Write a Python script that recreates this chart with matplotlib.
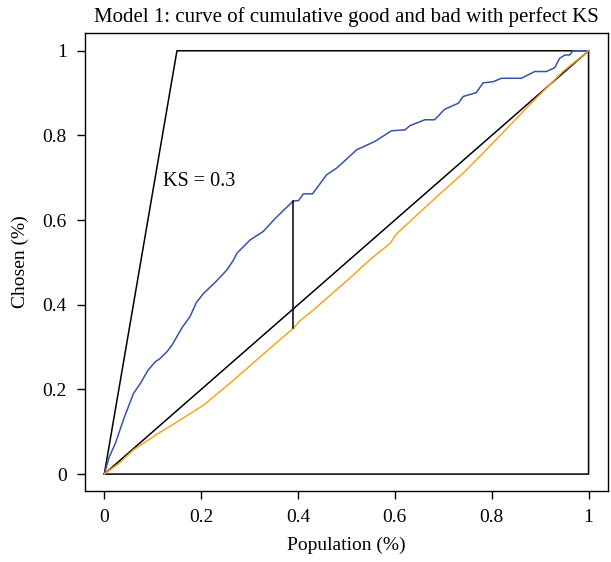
"""
Model 1: cumulative good / bad curves with the perfect-KS polygon.
"""
import matplotlib.pyplot as plt
import matplotlib as mpl

mpl.rcParams.update({
    'font.family': ['Liberation Serif', 'DejaVu Serif'],
    'font.size': 14,
    'axes.linewidth': 1.0,
    'xtick.direction': 'out',
    'ytick.direction': 'out',
})

# cumulative share of goods (blue)
good_x = [0.0, 0.01, 0.023, 0.04, 0.06, 0.075, 0.09, 0.105, 0.115, 0.13, 0.14,
          0.16, 0.177, 0.19, 0.205, 0.229, 0.253, 0.267,
          0.274, 0.301, 0.328, 0.353, 0.39, 0.401, 0.411, 0.43, 0.459, 0.48, 0.504,
          0.521, 0.559, 0.593, 0.621, 0.631, 0.662, 0.682, 0.703, 0.731, 0.741,
          0.768, 0.782, 0.803, 0.82, 0.861, 0.889, 0.913, 0.93, 0.94, 0.951, 0.961,
          0.968, 1.0]
good_y = [0.0, 0.04, 0.073, 0.13, 0.19, 0.215, 0.245, 0.265, 0.273, 0.29, 0.305,
          0.345, 0.372, 0.405, 0.427, 0.453, 0.482, 0.506,
          0.522, 0.553, 0.573, 0.604, 0.645, 0.646, 0.662, 0.662, 0.707, 0.723, 0.748,
          0.766, 0.786, 0.811, 0.813, 0.823, 0.837, 0.837, 0.862, 0.876, 0.892,
          0.901, 0.924, 0.927, 0.935, 0.935, 0.951, 0.951, 0.96, 0.982, 0.99, 0.99,
          1.0, 1.0]

# cumulative share of bads (orange)
bad_x = [0.0, 0.03, 0.06, 0.11, 0.157, 0.205, 0.267, 0.342, 0.39, 0.404, 0.432,
         0.507, 0.548, 0.59, 0.603, 0.672, 0.741, 0.782, 0.878, 0.947, 1.0]
bad_y = [0.0, 0.025, 0.057, 0.095, 0.128, 0.163, 0.222, 0.297, 0.344, 0.362, 0.388,
         0.463, 0.506, 0.545, 0.567, 0.64, 0.711, 0.758, 0.872, 0.951, 1.0]

# perfect model polygon
perfect_x = [0.0, 0.15, 1.0, 1.0, 0.0]
perfect_y = [0.0, 1.0, 1.0, 0.0, 0.0]

ks_x = 0.39
ks_lo, ks_hi = 0.344, 0.645
ks_value = 0.3

ticks = [0, 0.2, 0.4, 0.6, 0.8, 1]
tick_labels = ['0', '0.2', '0.4', '0.6', '0.8', '1']

fig = plt.figure(figsize=(6.11, 5.62), dpi=100)
ax = fig.add_axes([0.139, 0.1263, 0.856, 0.815])

ax.plot(perfect_x, perfect_y, color='black', lw=1.1)
ax.plot([0, 1], [0, 1], color='black', lw=1.1)
ax.plot(good_x, good_y, color='#3553a8', lw=1.1)
ax.plot(bad_x, bad_y, color='#f5a623', lw=1.1)
ax.plot([ks_x, ks_x], [ks_lo, ks_hi], color='black', lw=1.1)
ax.text(0.196, 0.69, f'KS = {ks_value}', ha='center', va='center', fontsize=14.5)

ax.set_xlim(-0.04, 1.04)
ax.set_ylim(-0.04, 1.042)
ax.set_xticks(ticks)
ax.set_xticklabels(tick_labels)
ax.set_yticks(ticks)
ax.set_yticklabels(tick_labels)
ax.tick_params(length=6, width=1.0, pad=7)

ax.set_xlabel('Population (%)', labelpad=8)
ax.set_ylabel('Chosen (%)', labelpad=10)
ax.set_title('Model 1: curve of cumulative good and bad with perfect KS',
             fontsize=15, pad=8)

fig.savefig('out.png', dpi=100)
